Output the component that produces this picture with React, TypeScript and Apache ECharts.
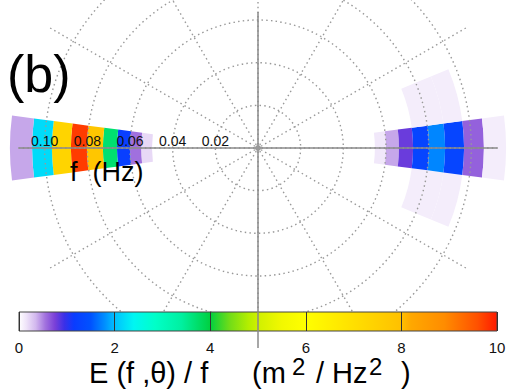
import React, { useEffect, useRef } from "react";
import * as echarts from "echarts";

// ---------------- data ----------------
// frequency bin edges (Hz), logarithmic spacing
const freqEdges = [0.0497, 0.0548, 0.06, 0.0661, 0.0727, 0.0802, 0.0877, 0.0966, 0.1059, 0.1163];
// direction bin width (deg)
const dirWidth = 15;
// spectra per direction bin (axis degrees: 0 = left/west, 180 = right/east)
const dirWest = 0;
const specWest = [0.2, 0.56, 1.2, 3.7, 7.8, 9.75, 7.35, 2.2, 0.4];
const dirEastUpper = 165;
const specEastUpper = [0, 0, 0, 0, 0.1, 0.1, 0.1, 0, 0];
const dirEast = 180;
const specEast = [0, 0.13, 0.4, 0.8, 1.3, 1.75, 1.3, 0.62, 0.1];
const dirEastLower = 195;
const specEastLower = [0, 0, 0, 0, 0.1, 0.1, 0.1, 0, 0];
// axis ticks
const freqTicks = [0, 0.02, 0.04, 0.06, 0.08, 0.1];
const energyTicks = [0, 2, 4, 6, 8, 10];
// colour map
const cmapStops = [0, 0.15, 0.35, 0.55, 0.75, 0.95, 1.15, 1.5, 1.8, 2.0, 2.4, 2.85, 3.4, 4.0, 4.4, 4.8, 5.0, 5.5, 6.0, 6.85, 8.0, 8.2, 8.9, 9.6, 10];
const cmapColors = [
  "#ffffff", "#efe4f9", "#d2b8ee", "#a272de", "#7a40d8", "#3a30e8", "#0a3cff", "#0052ff",
  "#0090ff", "#00c0ff", "#00f6f2", "#00ffc8", "#00f0a0", "#00d040", "#70dc18", "#b4ee00",
  "#d0f000", "#f2f800", "#ffff00", "#ffe400", "#ffc000", "#ffa800", "#ff8c00", "#ff5000", "#ff1a00",
];

const FONT = "Liberation Sans";
const CX = 258;
const CY = 148;

function hexToRgb(h: string) {
  const n = parseInt(h.slice(1), 16);
  return [(n >> 16) & 255, (n >> 8) & 255, n & 255];
}
function sampleCmap(v: number) {
  let i = 0;
  while (i < cmapStops.length - 2 && v > cmapStops[i + 1]) i++;
  const t = Math.max(0, Math.min(1, (v - cmapStops[i]) / (cmapStops[i + 1] - cmapStops[i])));
  const a = hexToRgb(cmapColors[i]);
  const b = hexToRgb(cmapColors[i + 1]);
  const c = a.map((x, k) => Math.round(x + (b[k] - x) * t));
  return `rgb(${c[0]},${c[1]},${c[2]})`;
}

function txt(text: string, x: number, y: number, size: number, lineHeight?: number) {
  return {
    type: "text",
    z: 10,
    x,
    y,
    style: {
      text,
      fontSize: size,
      lineHeight: lineHeight || size,
      fontFamily: FONT,
      fill: "#000",
      verticalAlign: "middle",
      align: "left",
    },
  };
}

export default function App() {
  const ref = useRef<HTMLDivElement>(null);
  useEffect(() => {
    const chart = echarts.init(ref.current!, null, { renderer: "svg" });

    const spectra = [
      { dir: dirWest, values: specWest },
      { dir: dirEastUpper, values: specEastUpper },
      { dir: dirEast, values: specEast },
      { dir: dirEastLower, values: specEastLower },
    ];
    const cells: number[][] = [];
    spectra.forEach((s) =>
      s.values.forEach((v, i) => {
        if (v > 0) cells.push([freqEdges[i], freqEdges[i + 1], s.dir, v]);
      })
    );

    const cmapList: string[] = [];
    for (let i = 0; i <= 200; i++) cmapList.push(sampleCmap((i / 200) * 10));

    const gradient = {
      type: "linear",
      x: 0,
      y: 0,
      x2: 1,
      y2: 0,
      colorStops: cmapStops.map((v, i) => ({ offset: v / 10, color: cmapColors[i] })),
    };

    const dotted = { type: [1.5, 3.2], color: "#999", width: 1.4 };

    const option: any = {
      animation: false,
      backgroundColor: "#fff",
      polar: [
        { center: [CX, CY], radius: 213.33 },
        { center: [CX, CY], radius: 240 },
      ],
      angleAxis: [
        {
          polarIndex: 0,
          type: "value",
          min: 0,
          max: 360,
          startAngle: 180,
          clockwise: false,
          axisLine: { show: false },
          axisTick: { show: false },
          axisLabel: { show: false },
          splitLine: { show: false },
        },
        {
          polarIndex: 1,
          type: "value",
          min: 0,
          max: 360,
          interval: 30,
          startAngle: 0,
          clockwise: false,
          axisLine: { show: false },
          axisTick: { show: false },
          axisLabel: { show: false },
          splitLine: { show: true, lineStyle: dotted },
          z: 2,
        },
      ],
      radiusAxis: [
        {
          polarIndex: 0,
          type: "value",
          min: freqTicks[0],
          max: freqTicks[freqTicks.length - 1],
          interval: freqTicks[1] - freqTicks[0],
          axisLine: { show: false },
          axisTick: { show: false },
          splitLine: { show: true, lineStyle: dotted },
          axisLabel: {
            show: true,
            showMinLabel: false,
            formatter: (v: number) => v.toFixed(2),
            fontSize: 14,
            fontFamily: FONT,
            color: "#111",
            margin: -7,
            verticalAlign: "middle",
            align: "center",
          },
          z: 2,
        },
        {
          polarIndex: 1,
          type: "value",
          min: 0,
          max: 1,
          axisLine: { show: false },
          axisTick: { show: false },
          axisLabel: { show: false },
          splitLine: { show: false },
        },
      ],
      grid: [
        {
          left: 19,
          top: 312,
          width: 478,
          height: 19,
          show: true,
          backgroundColor: gradient,
          borderColor: "#444",
          borderWidth: 1,
          z: 4,
        },
      ],
      xAxis: [
        {
          gridIndex: 0,
          type: "value",
          min: energyTicks[0],
          max: energyTicks[energyTicks.length - 1],
          interval: energyTicks[1] - energyTicks[0],
          axisLine: { show: false },
          axisTick: { show: false },
          splitLine: { show: true, lineStyle: { color: "#333", width: 1 } },
          axisLabel: { fontSize: 15, fontFamily: FONT, color: "#111", margin: 9 },
          z: 5,
        },
      ],
      yAxis: [{ gridIndex: 0, type: "value", min: 0, max: 1, show: false }],
      visualMap: [
        {
          type: "continuous",
          show: false,
          min: 0,
          max: 10,
          dimension: 3,
          seriesIndex: 0,
          inRange: { color: cmapList },
        },
      ],
      series: [
        {
          type: "custom",
          coordinateSystem: "polar",
          polarIndex: 0,
          z: 0,
          data: cells,
          renderItem: (params: any, api: any) => {
            const cs = params.coordSys;
            const f0 = api.value(0);
            const f1 = api.value(1);
            const d = api.value(2);
            const pA = api.coord([f1, d + dirWidth / 2]);
            const pB = api.coord([f1, d - dirWidth / 2]);
            const pI = api.coord([f0, d]);
            const rOut = Math.hypot(pA[0] - cs.cx, pA[1] - cs.cy);
            const rIn = Math.hypot(pI[0] - cs.cx, pI[1] - cs.cy);
            const a0 = Math.atan2(pA[1] - cs.cy, pA[0] - cs.cx);
            let a1 = Math.atan2(pB[1] - cs.cy, pB[0] - cs.cx);
            if (a1 < a0) a1 += 2 * Math.PI;
            return {
              type: "sector",
              shape: { cx: cs.cx, cy: cs.cy, r0: rIn, r: rOut, startAngle: a0, endAngle: a1, clockwise: true },
              style: { fill: api.visual("color"), stroke: null },
            };
          },
        },
      ],
      graphic: [
        { type: "rect", z: 3, silent: true, shape: { x: 0, y: 331, width: 517, height: 60 }, style: { fill: "#fff" } },
        { type: "line", z: 10, shape: { x1: 19, y1: CY, x2: 497, y2: CY }, style: { stroke: "#8a8a8a", lineWidth: 1.5 } },
        { type: "line", z: 10, shape: { x1: CX, y1: 12, x2: CX, y2: 348 }, style: { stroke: "#8a8a8a", lineWidth: 1.5 } },
        { type: "circle", z: 10, shape: { cx: CX, cy: CY, r: 3 }, style: { fill: "#999" } },
        txt("(b)", 7, 74, 52),
        txt("f  (Hz)", 70, 172, 27),
        txt("E (f ,θ) / f", 89, 373, 29),
        txt("(m", 252, 373, 29),
        txt("2", 292, 366, 24, 17),
        txt("/ Hz", 316, 373, 29),
        txt("2", 369, 366, 24, 17),
        txt(")", 401, 373, 29),
      ],
    };

    chart.setOption(option);
    return () => chart.dispose();
  }, []);
  return (
    <div
      ref={ref}
      style={{ position: "fixed", left: 0, top: 0, width: 517, height: 391, background: "#fff" }}
    />
  );
}
